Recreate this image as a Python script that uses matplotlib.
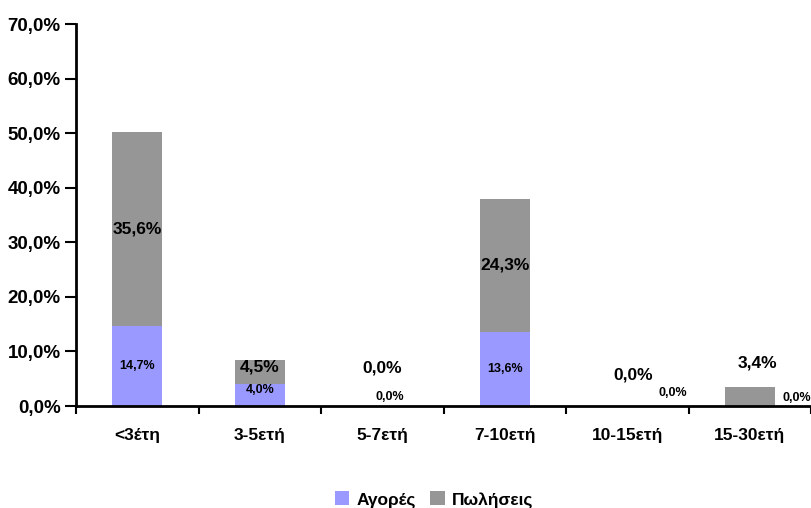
import numpy as np
import matplotlib
matplotlib.use("Agg")
import matplotlib.pyplot as plt
from matplotlib.ticker import FuncFormatter

plt.rcParams['font.family'] = ['Liberation Sans Narrow', 'Liberation Sans', 'DejaVu Sans']
plt.rcParams['font.weight'] = 'bold'

# données
categories = ['<3έτη', '3-5ετή', '5-7ετή', '7-10ετή', '10-15ετή', '15-30ετή']
agores = [14.7, 4.0, 0.0, 13.6, 0.0, 0.0]
poliseis = [35.6, 4.5, 0.0, 24.3, 0.0, 3.4]
noms = ['Αγορές', 'Πωλήσεις']

col_agores = '#9999FF'
col_poliseis = '#969696'

def fmt(v):
    return f"{v:.1f}%".replace('.', ',')

fig = plt.figure(figsize=(8.11, 5.08), dpi=100)
ax = fig.add_axes([76/811, 1-406/508, 1-76/811, (406-24)/508])

x = np.arange(len(categories))
larg = 0.41
ax.bar(x, agores, larg, color=col_agores, label=noms[0])
ax.bar(x, poliseis, larg, bottom=agores, color=col_poliseis, label=noms[1])

# placement des étiquettes (comme Excel le fait, un peu bizarre pour les zéros)
decal_agores = {2: (0.06, 1.7, 'center'), 4: (0.37, 2.3, 'center'), 5: (0.27, 1.5, 'left')}
decal_poliseis = {2: (0.0, 7.0, 'center'), 4: (0.05, 5.7, 'center'), 5: (0.06, 7.9, 'center')}

for i in range(len(categories)):
    if i in decal_agores:
        dx, y, ha = decal_agores[i]
    else:
        dx, y, ha = 0, agores[i] / 2, 'center'
        if agores[i] < 5:
            y += 0.9
    ax.text(x[i] + dx, y, fmt(agores[i]), ha=ha, va='center', fontsize=9,
            fontweight='bold', clip_on=False)

    if i in decal_poliseis:
        dx, y, ha = decal_poliseis[i]
    else:
        dx, y, ha = 0, agores[i] + poliseis[i] / 2, 'center'
        if poliseis[i] < 5:
            y += 0.9
    ax.text(x[i] + dx, y, fmt(poliseis[i]), ha=ha, va='center', fontsize=12.5,
            fontweight='bold', clip_on=False)

ax.set_xlim(-0.5, len(categories) - 0.5)
ax.set_ylim(0, 70)
ax.set_yticks(np.arange(0, 71, 10))
ax.yaxis.set_major_formatter(FuncFormatter(lambda v, p: fmt(v)))

ax.set_xticks(x)
ax.set_xticklabels(categories)
ax.set_xticks(np.arange(-0.5, len(categories), 1), minor=True)
ax.tick_params(axis='x', which='major', length=0, pad=16, labelsize=12.5)
ax.tick_params(axis='x', which='minor', length=6, width=1.5, direction='out')
ax.tick_params(axis='y', length=8, width=1.5, direction='out', labelsize=13.5, pad=3)

for s in ['top', 'right']:
    ax.spines[s].set_visible(False)
ax.spines['left'].set_linewidth(2)
ax.spines['bottom'].set_linewidth(2)

fig.legend(loc='lower center', bbox_to_anchor=(0.535, -0.03), ncol=2, frameon=False,
           fontsize=12.5, handlelength=0.85, handleheight=0.85, handletextpad=0.4,
           columnspacing=0.8)

fig.savefig('out.png', dpi=100)
